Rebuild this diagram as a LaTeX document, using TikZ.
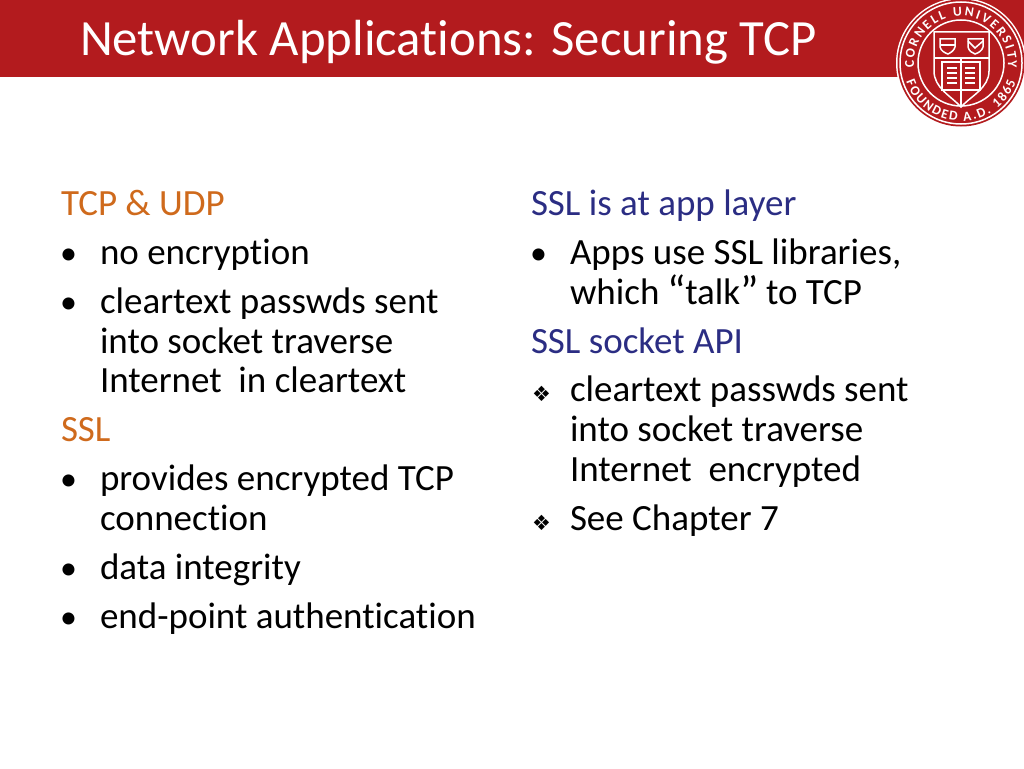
\documentclass[tikz,border=0pt]{standalone}
\usepackage{fontspec}
\setmainfont[RawFeature=-liga]{Carlito}
\newfontfamily\dejavu{DejaVu Sans}
\newfontfamily\sealfont{Carlito Bold}
\usetikzlibrary{decorations.text}
\definecolor{cornellred}{HTML}{B31B1E}
\definecolor{headorange}{HTML}{CF6A1C}
\definecolor{headblue}{HTML}{2B2D83}
\newcommand{\bigquote}[1]{\raisebox{-2pt}{\fontsize{44}{44}\selectfont #1}}
\begin{document}
\begin{tikzpicture}[x=1pt,y=1pt,
  line/.style={anchor=base west,inner sep=0pt,outer sep=0pt,font=\fontsize{37}{37}\selectfont},
  orange/.style={line,text=headorange},
  navy/.style={line,text=headblue},
  dot/.style={line},
  seal/.style={draw=white,line width=1.5pt}]
\useasboundingbox (0,0) rectangle (1024,-768);
\fill[white] (0,0) rectangle (1024,-768);
\fill[cornellred] (0,0) rectangle (1024,-77);
\node[line,text=white,font=\fontsize{50.8}{50.8}\selectfont] (title) at (80,-56) {Network Applications: Securing TCP};
% left column
\node[orange] (tcp) at (61,-215) {TCP \& UDP};
\node[line] (noenc) at (100,-264) {no encryption};
\node[line] (clear) at (100,-313) {cleartext passwds sent};
\node[line] (into) at (100,-353) {into socket traverse};
\node[line] (inet) at (100,-392) {Internet\ \ in cleartext};
\node[orange] (ssl) at (61,-441) {SSL};
\node[line] (prov) at (100,-490) {provides encrypted TCP};
\node[line] (conn) at (100,-530) {connection};
\node[line] (data) at (100,-579) {data integrity};
\node[line] (endp) at (100,-628) {end-point authentication};
% right column
\node[navy] (layer) at (531,-215) {SSL is at app layer};
\node[line] (apps) at (570,-264) {Apps use SSL libraries,};
\node[line] (which) at (570,-304) {which \bigquote{``}\kern-1pt talk\bigquote{''}\kern-1pt{} to TCP};
\node[navy] (api) at (531,-353) {SSL socket API};
\node[line] (clear2) at (570,-401) {cleartext passwds sent};
\node[line] (into2) at (570,-441) {into socket traverse};
\node[line] (inet2) at (570,-481) {Internet\ \ encrypted};
\node[line] (see) at (570,-530) {See Chapter 7};
% bullets
\foreach \x/\y in {60/264,60/313,60/490,60/579,60/628,530/264}
  \node[dot,font=\fontsize{34}{34}\selectfont] at (\x,-\y) {•};
\foreach \y in {401,530}
  \node[dot,font=\dejavu\fontsize{21}{21}\selectfont] at (532,-\y) {❖};
% seal
\begin{scope}[shift={(961,-63)}]
\fill[white] (0,0) circle (65);
\fill[cornellred] (0,0) circle (63.5);
\draw[seal] (0,0) circle (61);
\draw[seal] (0,0) circle (43);
\path[decorate,decoration={text along path,text align=fit to path,
  text={|\sealfont\fontsize{13.5}{13.5}\selectfont\color{white}|CORNELL UNIVERSITY}}]
  (186:47) arc (186:-6:47);
\path[decorate,decoration={text along path,text align=fit to path,
  text={|\sealfont\fontsize{13.5}{13.5}\selectfont\color{white}|FOUNDED A.D. 1865}}]
  (199:58) arc (199:341:58);
% shield
\draw[seal] (-27,31) -- (28,31) -- (28,-8) .. controls (28,-25) and (10,-33) .. (0,-44) .. controls (-10,-33) and (-27,-25) .. (-27,-8) -- cycle;
\draw[seal] (-27,5) -- (28,5) (0,5) -- (0,-44);
\draw[seal] (-21,24) -- (-6,24) -- (-6,16) .. controls (-7,12) and (-11,10) .. (-13,9) .. controls (-16,10) and (-20,12) .. (-21,16) -- cycle;
\draw[seal] (-21,18) -- (-6,18);
\draw[seal] (7,24) -- (22,24) -- (22,16) .. controls (21,12) and (17,10) .. (14,9) .. controls (11,10) and (8,12) .. (7,16) -- cycle;
\draw[seal] (7,22) -- (14,15) -- (22,22);
% book
\draw[seal] (-19,1) -- (19,1) -- (19,-27) -- (-19,-27) -- cycle;
\foreach \y in {-5,-10,-15,-20}
  \draw[white,line width=1.3pt] (-14,\y) -- (-4,\y) (4,\y) -- (14,\y);
\end{scope}
\end{tikzpicture}
\end{document}
